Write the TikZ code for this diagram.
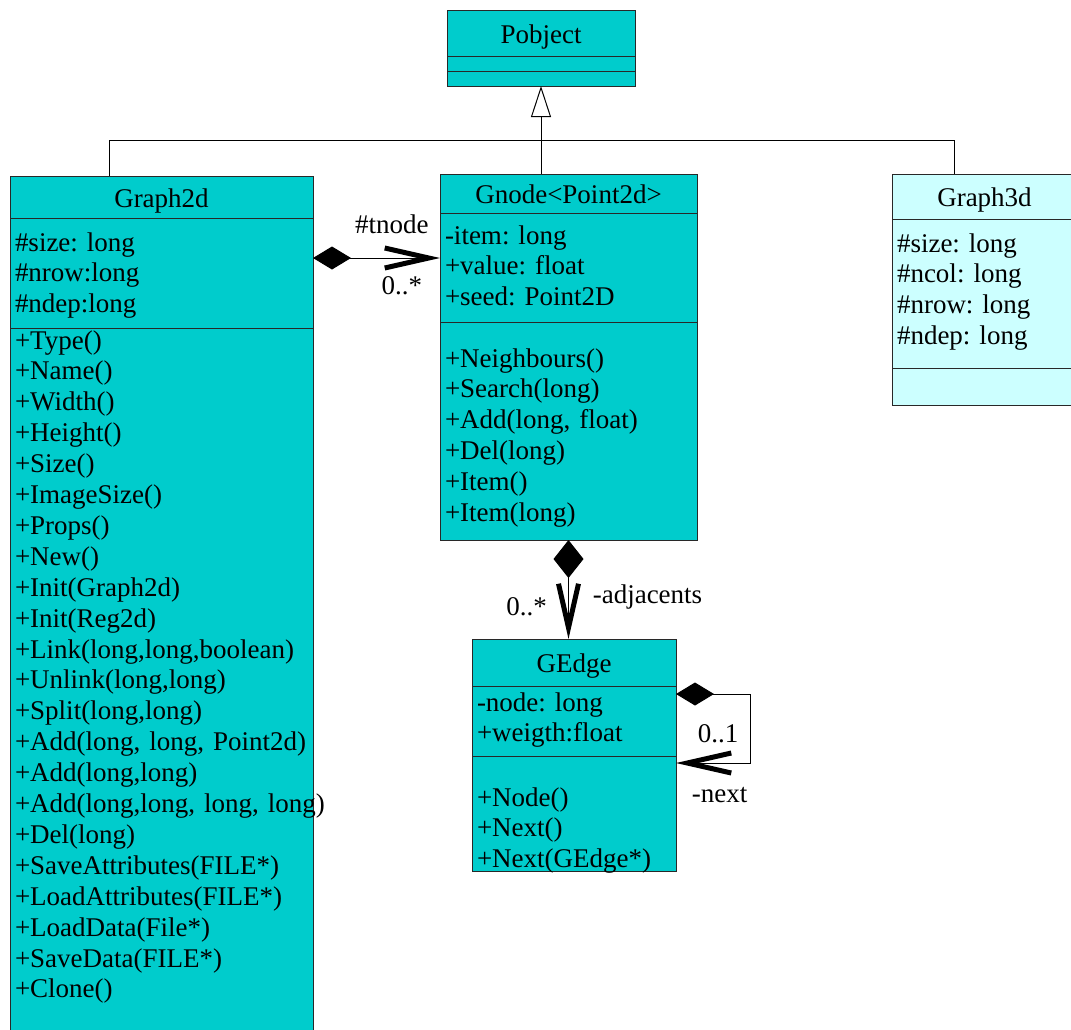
\documentclass[tikz,border=0pt]{standalone}
\usepackage{fontspec}
\setmainfont{Liberation Serif}
\usetikzlibrary{arrows.meta,positioning}
\definecolor{ClassCyan}{RGB}{0,204,204}
\definecolor{PaleCyan}{RGB}{204,255,255}
\definecolor{BoxLine}{RGB}{40,40,40}
\tikzset{
  umltext/.style={font=\fontsize{27}{30.9}\selectfont\frenchspacing},
  namebox/.style={umltext, draw=BoxLine, fill=ClassCyan, line width=1pt,
    anchor=north west, inner sep=0pt, outer sep=0pt, align=center,
    text height=20pt, text depth=0pt},
  % #1 = first baseline below the top, #2 = rest of the compartment
  partbox/.style 2 args={umltext, draw=BoxLine, fill=ClassCyan, line width=1pt,
    inner xsep=5pt, inner ysep=0pt, outer sep=0pt, align=left,
    text height=#1, text depth=#2},
  emptybox/.style={draw=BoxLine, fill=ClassCyan, line width=1pt,
    inner sep=0pt, outer sep=0pt},
  wire/.style={draw=black, line width=1pt},
  inherit/.style={wire, -{Triangle[open,length=31pt,width=20pt]}},
  comp/.style={wire, {Diamond[length=38pt,width=#1]}-{Straight Barb[length=44pt,width=20pt,line width=5pt]}},
  comp/.default=23pt,
  rolelabel/.style={umltext, inner sep=0pt}
}

\begin{document}
\begin{tikzpicture}[x=1pt,y=-1pt]
  \useasboundingbox (0,0) rectangle (1071,1029);

  % base class
  \node[namebox, minimum width=188pt, minimum height=46pt] (pobject-name) at (447,10) {Pobject};
  \node[emptybox, minimum width=188pt, minimum height=15pt, below=0pt of pobject-name] (pobject-attr) {};
  \node[emptybox, minimum width=188pt, minimum height=15pt, below=0pt of pobject-attr] (pobject-ops) {};

  % Graph2d
  \node[namebox, minimum width=303pt, minimum height=42pt] (graph2d-name) at (10,176) {Graph2d};
  \node[partbox={33pt}{77pt}, text width=293pt, below=0pt of graph2d-name] (graph2d-attr)
    {\#size: long\\\#nrow:long\\\#ndep:long};
  \node[partbox={21pt}{760pt}, text width=293pt, below=0pt of graph2d-attr] (graph2d-ops)
    {+Type()\\+Name()\\+Width()\\+Height()\\+Size()\\+ImageSize()\\+Props()\\+New()\\
     +Init(Graph2d)\\+Init(Reg2d)\\+Link(long,long,boolean)\\+Unlink(long,long)\\
     +Split(long,long)\\+Add(long, long, Point2d)\\+Add(long,long)\\
     \mbox{+Add(long,long, long, long)}\\+Del(long)\\+SaveAttributes(FILE*)\\
     +LoadAttributes(FILE*)\\+LoadData(File*)\\+SaveData(FILE*)\\+Clone()};

  % Gnode<Point2d>
  \node[namebox, minimum width=257pt, minimum height=39pt] (gnode-name) at (440,174) {Gnode<Point2d>};
  \node[partbox={31pt}{78pt}, text width=247pt, below=0pt of gnode-name] (gnode-attr)
    {-item: long\\+value: float\\+seed: Point2D};
  \node[partbox={45pt}{173pt}, text width=247pt, below=0pt of gnode-attr] (gnode-ops)
    {+Neighbours()\\+Search(long)\\+Add(long, float)\\+Del(long)\\+Item()\\+Item(long)};

  % Graph3d
  \node[namebox, fill=PaleCyan, minimum width=185pt, minimum height=45pt] (graph3d-name) at (892,174) {Graph3d};
  \node[partbox={33pt}{116pt}, fill=PaleCyan, text width=175pt, below=0pt of graph3d-name] (graph3d-attr)
    {\#size: long\\\#ncol: long\\\#nrow: long\\\#ndep: long};
  \node[emptybox, fill=PaleCyan, minimum width=185pt, minimum height=37pt, below=0pt of graph3d-attr] (graph3d-ops) {};

  % GEdge
  \node[namebox, minimum width=204pt, minimum height=47pt] (gedge-name) at (472,639) {GEdge};
  \node[partbox={25pt}{45pt}, text width=194pt, below=0pt of gedge-name] (gedge-attr)
    {-node: long\\+weigth:float};
  \node[partbox={50pt}{65pt}, text width=194pt, below=0pt of gedge-attr] (gedge-ops)
    {+Node()\\+Next()\\+Next(GEdge*)};

  % generalisation
  \draw[inherit] (pobject-ops.south |- gnode-name.north) -- (pobject-ops.south);
  \draw[wire] ([xshift=99pt]graph2d-name.north west) -- ++(0,-36) -| ([xshift=62pt]graph3d-name.north west);

  % compositions
  \coordinate (tnode-from) at ([yshift=15pt]graph2d-attr.east);
  \draw[comp] (tnode-from) -- node[rolelabel, pos=0.62, yshift=34pt] {\#tnode}
    node[rolelabel, pos=0.7, yshift=-28pt] {0..*} (tnode-from -| gnode-attr.west);

  \draw[comp=30pt] (gnode-ops.south) -- node[rolelabel, pos=0.67, xshift=-42pt] {0..*}
    node[rolelabel, pos=0.58, xshift=79pt] {-adjacents} (gnode-ops.south |- gedge-name.north);

  \coordinate (next-from) at ([yshift=27pt]gedge-attr.east);
  \coordinate (next-to) at ([yshift=-42pt]gedge-attr.east);
  \draw[comp] (next-from) -| ++(74,69) -- node[rolelabel, pos=0.43, yshift=29pt] {0..1}
    node[rolelabel, pos=0.41, yshift=-32pt] {-next} (next-to);
\end{tikzpicture}
\end{document}
